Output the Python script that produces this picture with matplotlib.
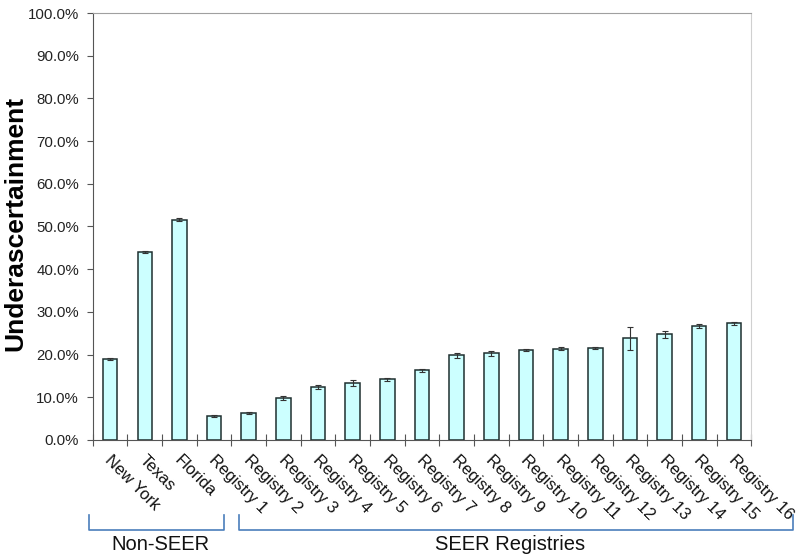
import matplotlib
matplotlib.use("Agg")
import matplotlib.pyplot as plt
import matplotlib.transforms as mtransforms
import numpy as np

plt.rcParams['font.family'] = ['Liberation Sans', 'DejaVu Sans']

labels = ['New York', 'Texas', 'Florida'] + ['Registry %d' % i for i in range(1, 17)]
values = [19.0, 44.0, 51.6, 5.6, 6.3, 9.8, 12.4, 13.3, 14.2, 16.3, 19.8, 20.3,
          21.0, 21.4, 21.6, 23.8, 24.8, 26.7, 27.3]
errors = [0.3, 0.2, 0.3, 0.2, 0.2, 0.5, 0.5, 0.7, 0.4, 0.4, 0.6, 0.6,
          0.2, 0.4, 0.2, 2.7, 0.8, 0.4, 0.4]
groups = [('Non-SEER', 0, 3), ('SEER Registries', 4, 18)]

fig = plt.figure(figsize=(8, 5.58), dpi=100)
ax = fig.add_axes([0.116, 0.2115, 0.823, 0.7652])

x = np.arange(len(labels))
ax.bar(x, values, width=0.42, color='#ccffff', edgecolor='#1e2f2f', linewidth=1.1,
       yerr=errors, error_kw=dict(ecolor='#333333', elinewidth=0.8, capsize=2.5, capthick=0.8))

ax.set_xlim(-0.5, len(labels) - 0.5)
ax.set_ylim(0, 100)
ax.set_yticks(np.arange(0, 101, 10))
ax.set_yticklabels(['%.1f%%' % v for v in np.arange(0, 101, 10)], fontsize=10.8, color='#222222')
ax.set_ylabel('Underascertainment', fontsize=19, fontweight='bold')
ax.yaxis.set_label_coords(-0.1, 0.506)

ax.set_xticks(x)
ax.set_xticklabels(labels, rotation=-45, ha='left', va='top', rotation_mode='anchor',
                   fontsize=12, color='#111111')
ax.tick_params(axis='x', which='major', length=0, pad=9)
ax.set_xticks(np.arange(-0.5, len(labels), 1), minor=True)
ax.tick_params(axis='x', which='minor', direction='inout', length=8, width=0.8, color='#555555')
ax.tick_params(axis='y', direction='out', length=4, width=0.8, color='#555555', pad=6)
for lab in ax.get_xticklabels():
    lab.set_transform(lab.get_transform() + mtransforms.ScaledTranslation(2 / 72, 0, fig.dpi_scale_trans))

ax.spines['top'].set_color('#a0a0a0')
ax.spines['right'].set_color('#d0d0d0')
ax.spines['left'].set_color('#555555')
ax.spines['bottom'].set_color('#555555')

# group brackets under the labels
trans = mtransforms.blended_transform_factory(ax.transData, fig.transFigure)
y_top, y_bot = 1 - 515 / 558, 1 - 530 / 558
for (name, i0, i1), nudge in zip(groups, [0.13, -0.18]):
    xl = i0 - 0.62 if i0 == 0 else i0 - 0.28
    xr = i1 + 0.29 if i1 == 3 else i1 + 1.7
    ax.plot([xl, xl, xr, xr], [y_top, y_bot, y_bot, y_top], transform=trans,
            color='#4a7ebb', linewidth=1.2, clip_on=False)
    ax.text((xl + xr) / 2 + nudge, 1 - 545 / 558, name, transform=trans, ha='center', va='center',
            fontsize=14.5, color='#111111')

fig.savefig('out.png', dpi=100)
